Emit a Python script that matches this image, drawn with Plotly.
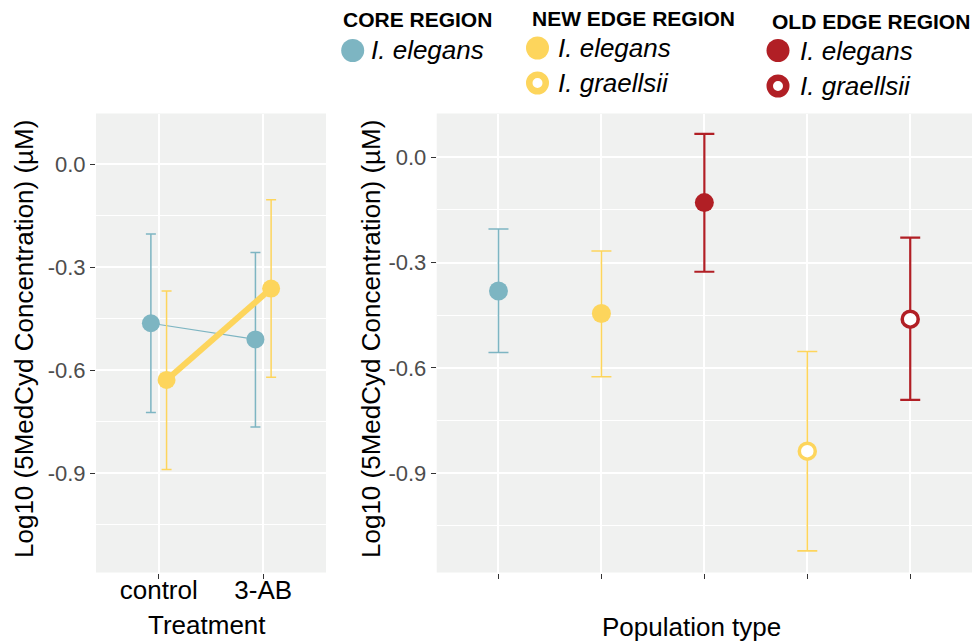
import plotly.graph_objects as go

# ---------------- data ----------------
treatments = ["control", "3-AB"]
core_eleg_mean = [-0.463, -0.510]
core_eleg_low = [-0.723, -0.765]
core_eleg_high = [-0.203, -0.257]
newedge_eleg_mean = [-0.628, -0.362]
newedge_eleg_low = [-0.889, -0.620]
newedge_eleg_high = [-0.369, -0.103]

populations = ["Core I. elegans", "New edge I. elegans", "Old edge I. elegans",
               "New edge I. graellsii", "Old edge I. graellsii"]
pop_mean = [-0.381, -0.445, -0.129, -0.837, -0.461]
pop_low = [-0.556, -0.625, -0.326, -1.121, -0.691]
pop_high = [-0.204, -0.267, 0.067, -0.553, -0.229]

y_ticks = [-0.9, -0.6, -0.3, 0.0]
y_ticktext = ["-0.9", "-0.6", "-0.3", "0.0"]

# ---------------- styles ----------------
BLUE = "#7DB5C2"
YELLOW = "#FDD55C"
RED = "#B11F25"
PANEL = "#F0F1F0"
FONT = "Liberation Sans, Arial, sans-serif"
W, H = 972, 644

pop_colors = [BLUE, YELLOW, RED, YELLOW, RED]
pop_open = [False, False, False, True, True]

def px_x(p):
    return p / W

def px_y(p):
    return 1 - p / H

fig = go.Figure()

dodge = 0.075
xi = list(range(len(treatments)))

def err(mean, low, high):
    return ([h - m for m, h in zip(mean, high)], [m - l for m, l in zip(mean, low)])

# left panel: interaction plot
for mean, low, high, col, lw, off in [
    (core_eleg_mean, core_eleg_low, core_eleg_high, BLUE, 1.2, -dodge),
    (newedge_eleg_mean, newedge_eleg_low, newedge_eleg_high, YELLOW, 6, dodge),
]:
    up, dn = err(mean, low, high)
    fig.add_trace(go.Scatter(
        x=[v + off for v in xi], y=mean, mode="lines+markers",
        line=dict(color=col, width=lw),
        marker=dict(color=col, size=18),
        error_y=dict(type="data", array=up, arrayminus=dn, color=col,
                     thickness=1.5, width=5),
        xaxis="x", yaxis="y", showlegend=False,
    ))

# right panel: population means
for i, (m, lo, hi) in enumerate(zip(pop_mean, pop_low, pop_high)):
    col = pop_colors[i]
    thick = 2.2 if col == RED else 1.6
    if pop_open[i]:
        mk = dict(color="white", size=16, line=dict(color=col, width=3.5))
    else:
        mk = dict(color=col, size=19, line=dict(width=0))
    fig.add_trace(go.Scatter(
        x=[i], y=[m], mode="markers", marker=mk,
        error_y=dict(type="data", array=[hi - m], arrayminus=[m - lo],
                     color=col, thickness=thick, width=10),
        xaxis="x2", yaxis="y2", showlegend=False, name=populations[i],
    ))

# legend keys drawn on a pixel-space overlay axis
legend_keys = [
    (352.7, 50.5, BLUE, False),
    (537.5, 48.0, YELLOW, False),
    (537.5, 83.0, YELLOW, True),
    (778.0, 50.5, RED, False),
    (778.0, 86.0, RED, True),
]
for kx, ky, col, op in legend_keys:
    if op:
        mk = dict(color="white", size=16.5, line=dict(color=col, width=6.5))
    else:
        mk = dict(color=col, size=23, line=dict(width=0))
    fig.add_trace(go.Scatter(x=[kx], y=[ky], mode="markers", marker=mk,
                             xaxis="x3", yaxis="y3", showlegend=False,
                             hoverinfo="skip"))

dom_y = [px_y(572.5), px_y(113.5)]

axis_common = dict(showgrid=True, gridcolor="white", gridwidth=1.6, zeroline=False,
                   ticks="outside", ticklen=5, tickcolor="#333333", tickwidth=1,
                   showline=False)

fig.update_layout(
    width=W, height=H, margin=dict(l=0, r=0, t=0, b=0),
    paper_bgcolor="white", plot_bgcolor="rgba(0,0,0,0)",
    font=dict(family=FONT, color="black"),
    xaxis=dict(domain=[px_x(96), px_x(326)], range=[-0.6, 1.6],
               tickvals=xi, ticktext=treatments, ticklabelstandoff=-11,
               tickfont=dict(size=26, color="black"), anchor="y", **axis_common),
    yaxis=dict(domain=dom_y, range=[-1.189, 0.148], tickvals=y_ticks,
               ticktext=y_ticktext, tickfont=dict(size=22, color="#4D4D4D"),
               minor=dict(tickvals=[-1.05, -0.75, -0.45, -0.15], showgrid=True,
                          gridcolor="white", gridwidth=0.9, ticks=""),
               anchor="x", **axis_common),
    xaxis2=dict(domain=[px_x(436.7), 1.0], range=[-0.6, 4.6],
                tickvals=list(range(len(populations))), ticktext=[""] * len(populations),
                anchor="y2", **axis_common),
    yaxis2=dict(domain=dom_y, range=[-1.1826, 0.1248], tickvals=y_ticks,
                ticktext=y_ticktext, tickfont=dict(size=22, color="#4D4D4D"),
                minor=dict(tickvals=[-1.05, -0.75, -0.45, -0.15], showgrid=True,
                           gridcolor="white", gridwidth=0.9, ticks=""),
                anchor="x2", **axis_common),
    xaxis3=dict(domain=[0, 1], range=[0, W], visible=False, anchor="y3",
                fixedrange=True),
    yaxis3=dict(domain=[0, 1], range=[H, 0], visible=False, anchor="x3",
                fixedrange=True),
)

# panel backgrounds
for xr, yr in [("x domain", "y domain"), ("x2 domain", "y2 domain")]:
    fig.add_shape(type="rect", xref=xr, yref=yr, x0=0, x1=1, y0=0, y1=1,
                  fillcolor=PANEL, line=dict(width=0), layer="below")

ann = []
title_font = dict(family=FONT, size=26, color="black")
ytitle = "Log10 (5MedCyd Concentration) (µM)"
ann.append(dict(text=ytitle, x=px_x(24), y=px_y(339), textangle=-90,
                font=title_font, showarrow=False, xref="paper", yref="paper",
                xanchor="center", yanchor="middle"))
ann.append(dict(text=ytitle, x=px_x(371), y=px_y(339), textangle=-90,
                font=title_font, showarrow=False, xref="paper", yref="paper",
                xanchor="center", yanchor="middle"))
ann.append(dict(text="Treatment", x=px_x(207), y=px_y(625), font=title_font,
                showarrow=False, xref="paper", yref="paper",
                xanchor="center", yanchor="middle"))
ann.append(dict(text="Population type", x=px_x(691), y=px_y(627), font=title_font,
                showarrow=False, xref="paper", yref="paper",
                xanchor="center", yanchor="middle"))

# legend texts
head_font = dict(family=FONT, size=21, color="black")
item_font = dict(family=FONT, size=26, color="black")
legend_heads = [("CORE REGION", 341, 20), ("NEW EDGE REGION", 530, 19),
                ("OLD EDGE REGION", 770, 21)]
for t, lx, ly in legend_heads:
    ann.append(dict(text="<b>" + t + "</b>", x=px_x(lx), y=px_y(ly), font=head_font,
                    showarrow=False, xref="paper", yref="paper",
                    xanchor="left", yanchor="middle"))
legend_items = [("I. elegans", 369, 50), ("I. elegans", 556, 48),
                ("I. graellsii", 556, 83), ("I. elegans", 798, 51),
                ("I. graellsii", 798, 86)]
for t, lx, ly in legend_items:
    ann.append(dict(text="<i>" + t + "</i>", x=px_x(lx), y=px_y(ly), font=item_font,
                    showarrow=False, xref="paper", yref="paper",
                    xanchor="left", yanchor="middle"))

fig.update_layout(annotations=ann)
fig.write_html("out.html")
